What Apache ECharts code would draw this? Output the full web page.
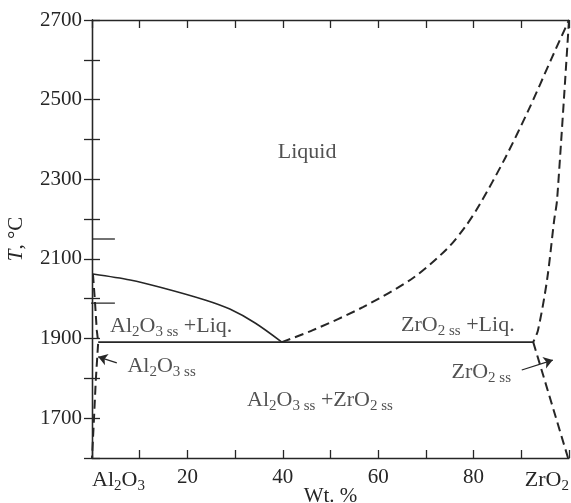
<!DOCTYPE html>
<html>
<head>
<meta charset="utf-8">
<script src="https://cdn.jsdelivr.net/npm/echarts@6/dist/echarts.min.js"></script>
<style>
  html, body { margin: 0; padding: 0; background: #fff; }
  #chart { width: 571px; height: 503px; }
</style>
</head>
<body>
<div id="chart"></div>
<script>
// phase diagram Al2O3 - ZrO2
const xTicks = [0, 20, 40, 60, 80, 100]
const yTicks = [1700, 1900, 2100, 2300, 2500, 2700]
const eutecticT = 1891

// liquidus, Al2O3 side (solid)
const alLiquidus = [[0.2, 2062], [8, 2047], [14.3, 2029], [23.7, 1997], [28.9, 1974], [34.2, 1939], [39.8, 1891]]
// liquidus, ZrO2 side (dashed)
const zrLiquidus = [[39.8, 1891], [46.3, 1921], [56.8, 1979], [67.3, 2052], [74.4, 2125], [78.2, 2180], [81.3, 2237], [86.6, 2353], [91.6, 2476], [96.4, 2605], [100, 2700]]
// solidus / solvus, ZrO2 side
const zrSolidus = [[100, 2700], [97.5, 2248], [96.9, 2198], [95.4, 2047], [93.5, 1921], [92.5, 1891]]
const zrSolvus = [[92.5, 1891], [99.8, 1600]]
// solidus / solvus, Al2O3 side
const alSolidus = [[0.2, 2062], [0.6, 1997], [1.0, 1921], [1.3, 1891], [0.8, 1796], [0.4, 1695], [0, 1600]]
// eutectic line ends
const eutectic = [[1.3, eutecticT], [92.5, eutecticT]]
// stray marks on the left axis of the scan
const strayMarks = [[[0, 2150], [4.8, 2150]], [[-2.1, 1989], [4.8, 1989]]]

const serif = 'Liberation Serif'
const ink = '#262626'

const rich = {
  n: { fontFamily: serif, fontSize: 22, color: ink },
  s: { fontFamily: serif, fontSize: 15, color: ink, padding: [12, 0, 0, 0] },
  ss: { fontFamily: serif, fontSize: 15, color: ink, padding: [12, 0, 0, 0] }
}
const al = '{n|Al}{s|2}{n|O}{s|3}'
const zr = '{n|ZrO}{s|2}'

// text labels in the diagram
const annotations = [
  { at: [45.1, 2368], text: '{n|Liquid}' },
  { at: [16.6, 1931], text: al + '{ss| ss}{n| +Liq.}' },
  { at: [14.6, 1831], text: al + '{ss| ss}' },
  { at: [76.7, 1934], text: zr + '{ss| ss}{n| +Liq.}' },
  { at: [81.6, 1816], text: zr + '{ss| ss}' },
  { at: [47.8, 1746], text: al + '{ss| ss}{n| +}' + zr + '{ss| ss}' }
]
const arrows = [
  [[5.2, 1839], [1.3, 1854]],
  [[90.1, 1821], [96.6, 1846]]
]

const chart = echarts.init(document.getElementById('chart'), null, { renderer: 'canvas' })

const solid = { color: ink, width: 1.6, type: 'solid' }
const dashed = { color: ink, width: 2, type: [9, 5] }

function curve(name, data, style) {
  return {
    name,
    type: 'line',
    data,
    smooth: 0.3,
    symbol: 'none',
    lineStyle: style,
    silent: true,
    z: 3
  }
}

const tickStyle = { inside: true, length: 8, lineStyle: { color: ink, width: 1.3 } }
const lineStyle = { lineStyle: { color: ink, width: 1.3 } }

chart.setOption({
  animation: false,
  backgroundColor: '#fff',
  grid: { left: 92, right: 2, top: 20, bottom: 45, containLabel: false, outerBoundsMode: 'none' },
  xAxis: [{
    type: 'value',
    min: 0,
    max: 100,
    interval: 10,
    position: 'bottom',
    axisLine: lineStyle,
    axisTick: tickStyle,
    splitLine: { show: false },
    name: 'Wt. %',
    nameLocation: 'middle',
    nameGap: 28,
    nameMoveOverlap: false,
    nameTextStyle: { fontFamily: serif, fontSize: 21, color: ink },
    axisLabel: {
      margin: 9,
      alignMinLabel: 'left',
      alignMaxLabel: 'right',
      showMinLabel: true,
      showMaxLabel: true,
      fontFamily: serif,
      fontSize: 21,
      color: ink,
      rich: { ...rich, t: { fontFamily: serif, fontSize: 21, color: ink } },
      formatter: v => {
        if (v === 0) return al
        if (v === 100) return zr
        return xTicks.includes(v) ? '{t|' + v + '}' : ''
      }
    }
  }, {
    type: 'value',
    min: 0,
    max: 100,
    interval: 10,
    position: 'top',
    axisLine: lineStyle,
    axisTick: tickStyle,
    axisLabel: { show: false },
    splitLine: { show: false }
  }],
  yAxis: [{
    type: 'value',
    min: 1600,
    max: 2700,
    interval: 100,
    position: 'left',
    axisLine: { show: true, ...lineStyle },
    axisTick: tickStyle,
    splitLine: { show: false },
    name: '{i|T}{n|, °C}',
    nameLocation: 'middle',
    nameRotate: 90,
    nameGap: 65,
    nameMoveOverlap: false,
    nameTextStyle: {
      rich: {
        i: { fontFamily: serif, fontSize: 21, fontStyle: 'italic', color: ink },
        n: { fontFamily: serif, fontSize: 21, color: ink }
      }
    },
    axisLabel: {
      margin: 10,
      fontFamily: serif,
      fontSize: 21,
      color: ink,
      formatter: v => (yTicks.includes(v) ? String(v) : '')
    }
  }, {
    type: 'value',
    min: 1600,
    max: 2700,
    interval: 100,
    position: 'right',
    axisLine: { show: true, ...lineStyle },
    axisTick: tickStyle,
    axisLabel: { show: false },
    splitLine: { show: false }
  }],
  series: [
    curve('Al2O3 liquidus', alLiquidus, solid),
    curve('ZrO2 liquidus', zrLiquidus, dashed),
    curve('ZrO2 solidus', zrSolidus, dashed),
    { ...curve('ZrO2 solvus', zrSolvus, dashed), smooth: false },
    { ...curve('Al2O3 solidus', alSolidus, dashed), smooth: false },
    { ...curve('eutectic', eutectic, solid), smooth: false },
    ...strayMarks.map((m, i) => ({
      ...curve('mark' + i, m, { color: ink, width: 1.3 }),
      smooth: false,
      clip: false
    })),
    {
      name: 'labels',
      type: 'scatter',
      symbolSize: 0,
      silent: true,
      data: annotations.map(a => ({
        value: a.at,
        label: {
          show: true,
          position: 'inside',
          formatter: a.text,
          rich
        }
      })),
      markLine: {
        silent: true,
        symbol: ['none', 'arrow'],
        symbolSize: 9,
        label: { show: false },
        lineStyle: { color: ink, width: 1.3, type: 'solid' },
        data: arrows.map(a => [{ coord: a[0] }, { coord: a[1] }])
      }
    }
  ]
})
</script>
</body>
</html>
